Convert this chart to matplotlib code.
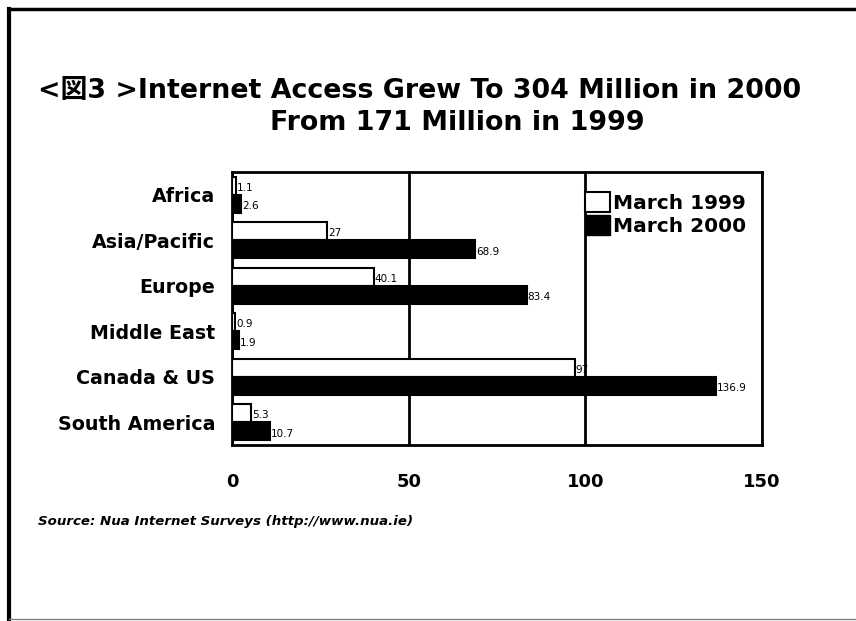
import numpy as np
import matplotlib.pyplot as plt
from matplotlib.patches import Patch

# Regionen und Werte (Millionen Internetnutzer)
regions = ['Africa', 'Asia/Pacific', 'Europe', 'Middle East', 'Canada & US', 'South America']
march_1999 = [1.1, 27, 40.1, 0.9, 97, 5.3]
march_2000 = [2.6, 68.9, 83.4, 1.9, 136.9, 10.7]
labels_1999 = ['1.1', '27', '40.1', '0.9', '97', '5.3']
labels_2000 = ['2.6', '68.9', '83.4', '1.9', '136.9', '10.7']
xticks = [0, 50, 100, 150]

plt.rcParams['font.family'] = ['DejaVu Sans', 'Noto Sans CJK JP']

fig = plt.figure(figsize=(8.56, 6.21), dpi=100)
ax = fig.add_axes([232 / 856, 1 - 445 / 621, (762 - 232) / 856, (445 - 172) / 621])

y = np.arange(len(regions))
h = 0.4
bars1 = ax.barh(y - h / 2, march_1999, height=h, color='white', edgecolor='black', linewidth=1.5,
                label='March 1999', zorder=3)
bars2 = ax.barh(y + h / 2, march_2000, height=h, color='black', edgecolor='black', linewidth=1.5,
                label='March 2000', zorder=3)

# Werte neben die Balken schreiben
for bar, txt in zip(bars1, labels_1999):
    ax.text(bar.get_width() + 0.3, bar.get_y() + bar.get_height() / 2 + 0.05, txt,
            ha='left', va='center', fontsize=7.5, zorder=4)
for bar, txt in zip(bars2, labels_2000):
    ax.text(bar.get_width() + 0.3, bar.get_y() + bar.get_height() / 2 + 0.05, txt,
            ha='left', va='center', fontsize=7.5, zorder=4)

ax.set_xlim(0, 150)
ax.set_ylim(len(regions) - 0.5, -0.5)
ax.set_yticks(y)
ax.set_yticklabels(regions, fontsize=13.7, fontweight='bold')
ax.set_xticks(xticks)
ax.set_xticklabels([str(t) for t in xticks], fontsize=13, fontweight='bold')
ax.tick_params(axis='x', length=0, pad=20)
ax.tick_params(axis='y', length=0, pad=12)
for s in ax.spines.values():
    s.set_linewidth(2)
ax.xaxis.grid(True, color='black', linewidth=2, zorder=1)
ax.set_axisbelow(True)

handles = [Patch(facecolor='white', edgecolor='black', linewidth=1.5, label='March 1999'),
           Patch(facecolor='black', edgecolor='black', label='March 2000')]
ax.legend(handles=handles, loc='upper left', bbox_to_anchor=(0.666, 0.927), frameon=False,
          prop={'weight': 'bold', 'size': 14.5}, handlelength=1.25, handleheight=1.15,
          handletextpad=0.15, labelspacing=0.1, borderpad=0, borderaxespad=0)

# Titel
fig.text(38 / 856, 1 - 91 / 621, '<図3 >Internet Access Grew To 304 Million in 2000',
         fontsize=19.4, fontweight='bold', ha='left', va='center')
fig.text(457 / 856, 1 - 123 / 621, 'From 171 Million in 1999',
         fontsize=19.4, fontweight='bold', ha='center', va='center')

# Quelle
fig.text(38 / 856, 1 - 521 / 621, 'Source: Nua Internet Surveys (http://www.nua.ie)',
         fontsize=9.6, fontweight='bold', fontstyle='italic', ha='left', va='center')

# Rahmen
fig.add_artist(plt.Line2D([9 / 856, 9 / 856], [1 - 9 / 621, 1 - 619 / 621], color='black',
                          linewidth=3, transform=fig.transFigure))
fig.add_artist(plt.Line2D([9 / 856, 1], [1 - 9 / 621, 1 - 9 / 621], color='black',
                          linewidth=2.5, transform=fig.transFigure))
fig.add_artist(plt.Line2D([9 / 856, 1], [1 - 619 / 621, 1 - 619 / 621], color='gray',
                          linewidth=1, transform=fig.transFigure))

plt.savefig('out.png', dpi=100)
